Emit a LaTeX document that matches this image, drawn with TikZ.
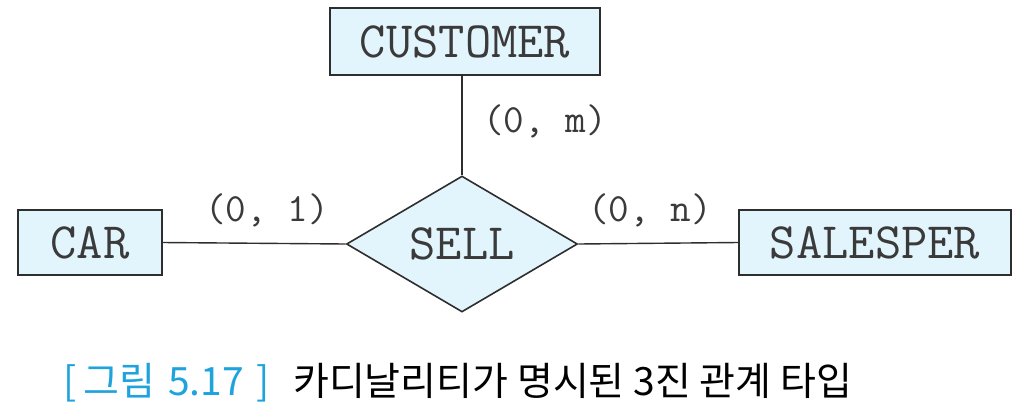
\documentclass[tikz,border=0pt]{standalone}
\usepackage{fontspec}
\newfontfamily\krfont{Noto Sans CJK KR}
\usetikzlibrary{shapes.geometric}
\definecolor{boxfill}{HTML}{E2F4FC}
\definecolor{linecol}{HTML}{2E2E2E}
\definecolor{capblue}{HTML}{1FA3DD}
\definecolor{txtcol}{HTML}{3A3A3A}
\tikzset{
  entity/.style={draw=linecol, line width=1.6pt, fill=boxfill, inner sep=0pt,
    font=\fontsize{51}{51}\ttfamily, text=txtcol},
  relation/.style={diamond, draw=linecol, line width=1.6pt, fill=boxfill, inner sep=0pt,
    minimum width=231pt, minimum height=136pt, aspect=1.7,
    font=\fontsize{51}{51}\ttfamily, text=txtcol},
  conn/.style={draw=linecol, line width=1.4pt},
  card/.style={font=\fontsize{40}{40}\ttfamily, text=txtcol, inner sep=0pt},
  captext/.style={anchor=base west, inner sep=0pt, font=\fontsize{39}{39}\krfont}
}
\begin{document}
\begin{tikzpicture}[x=1pt,y=-1pt]
\useasboundingbox (0,0) rectangle (1030,416);
\node[entity, minimum width=270pt, minimum height=67pt] (customer) at (465,41.5) {CUSTOMER};
\node[entity, minimum width=144pt, minimum height=65pt] (car) at (90,242.5) {CAR};
\node[entity, minimum width=272pt, minimum height=65pt] (salesper) at (875,242.5) {SALESPER};
\node[relation] (sell) at (462,244) {SELL};
\draw[conn] (customer.south -| sell.north) -- (sell.north);
\draw[conn] (car.east) -- (sell.west);
\draw[conn] (sell.east) -- (salesper.west);
\node[card] (lm) at (545,121) {(0, m)};
\node[card] (l1) at (267,210) {(0, 1)};
\node[card] (ln) at (650,210) {(0, n)};
\node[captext, text=capblue] (capnum) at (63,395) {[\hspace{7pt}그림\hspace{13pt}5.17\hspace{13pt}]};
\node[captext] (captitle) at (293,395) {카디날리티가 명시된 3진 관계 타입};
\end{tikzpicture}
\end{document}
